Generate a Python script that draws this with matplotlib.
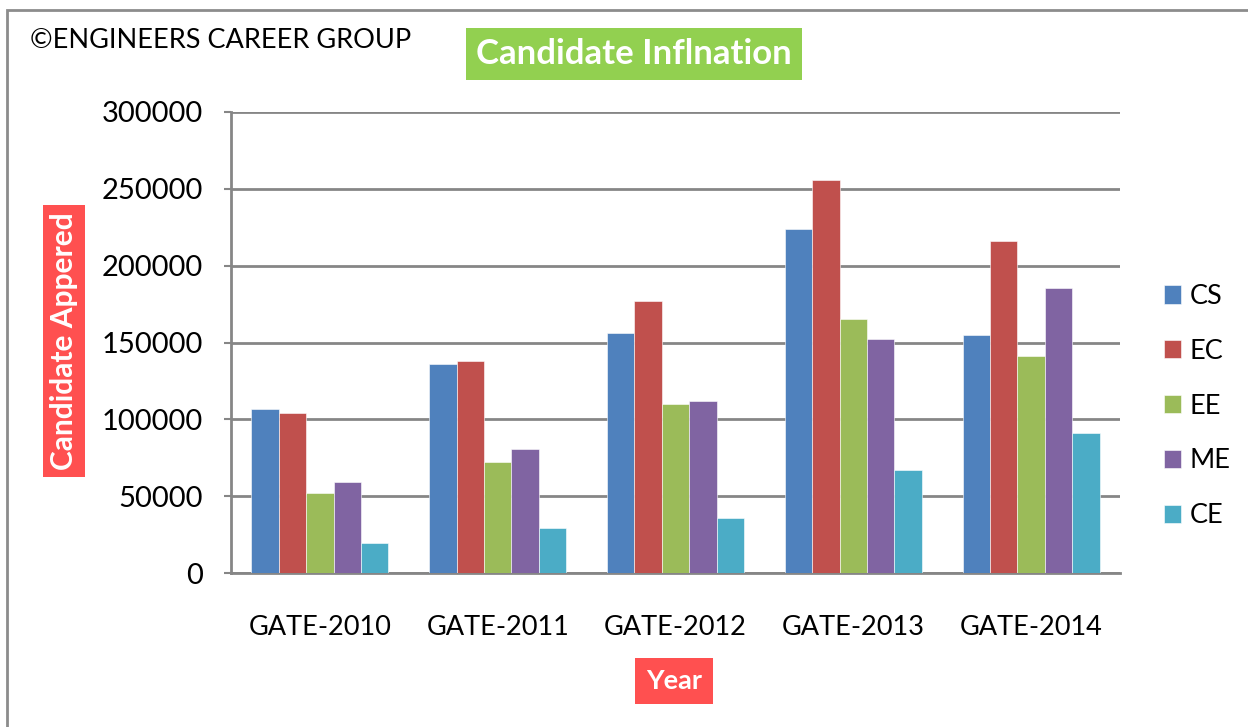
import matplotlib.pyplot as plt
import numpy as np
from matplotlib.patches import Rectangle

plt.rcParams['font.family'] = ['Lato', 'DejaVu Sans']

years = ["GATE-2010", "GATE-2011", "GATE-2012", "GATE-2013", "GATE-2014"]
branches = ["CS", "EC", "EE", "ME", "CE"]
cs = [107000, 136000, 156500, 224000, 155000]
ec = [104000, 138000, 176700, 256000, 216200]
ee = [52000, 72400, 109800, 165600, 141500]
me = [59000, 81000, 111900, 152100, 185600]
ce = [19200, 29100, 35600, 67100, 90900]
colors = ["#4F81BD", "#C0504D", "#9BBB59", "#8064A2", "#4BACC6"]

fig = plt.figure(figsize=(12.48, 7.27), dpi=100)
ax = fig.add_axes([231/1248, 1-573/727, 889/1248, 461/727])

# outer chart border
fig.patches.append(Rectangle((7/1248, -0.05), 1.1, 1-10/727+0.05, transform=fig.transFigure,
                             fill=False, edgecolor="#8c8c8c", linewidth=2))

x = np.arange(len(years))
w = 0.154
series = [cs, ec, ee, me, ce]
for i, (name, vals) in enumerate(zip(branches, series)):
    ax.bar(x + (i - 2) * w, vals, w, color=colors[i], label=name,
           edgecolor="white", linewidth=0.4, zorder=3)

ax.set_xlim(-0.5, 4.5)
ax.set_ylim(0, 300000)
ax.set_yticks(range(0, 300001, 50000))
ax.set_xticks(x)
ax.set_xticklabels(years, fontsize=19.5)
ax.tick_params(axis='y', labelsize=21, length=5, color="#868686", width=1.5, pad=15)
ax.tick_params(axis='x', length=0, pad=30)
ax.grid(axis='y', color="#868686", linewidth=2, zorder=0)
for s in ["top", "right"]:
    ax.spines[s].set_visible(False)
for s in ["left", "bottom"]:
    ax.spines[s].set_color("#868686")
    ax.spines[s].set_linewidth(2)

leg = ax.legend(loc="center left", bbox_to_anchor=(1.049, 0.362), bbox_transform=ax.transAxes,
                frameon=False, fontsize=19.5, handlelength=0.65, handleheight=0.65,
                labelspacing=1.1, handletextpad=0.3, borderpad=0, borderaxespad=0)

fig.text(30/1248, 1-41/727, "©ENGINEERS CAREER GROUP", fontsize=19.5, va="center", ha="left")
fig.text(634/1248, 1-54/727, "Candidate Inflnation", fontsize=25, fontweight="bold",
         color="white", va="center", ha="center",
         bbox=dict(boxstyle="square,pad=0.28", facecolor="#92D050", edgecolor="none"))
fig.text(64/1248, 1-341/727, "Candidate Appered", fontsize=21.5, fontweight="bold",
         color="white", va="center", ha="center", rotation=90,
         bbox=dict(boxstyle="square,pad=0.25", facecolor="#FF5050", edgecolor="none"))
fig.text(674/1248, 1-681/727, "Year", fontsize=19.5, fontweight="bold",
         color="white", va="center", ha="center",
         bbox=dict(boxstyle="square,pad=0.4", facecolor="#FF5050", edgecolor="none"))

fig.savefig("out.png", dpi=100)
